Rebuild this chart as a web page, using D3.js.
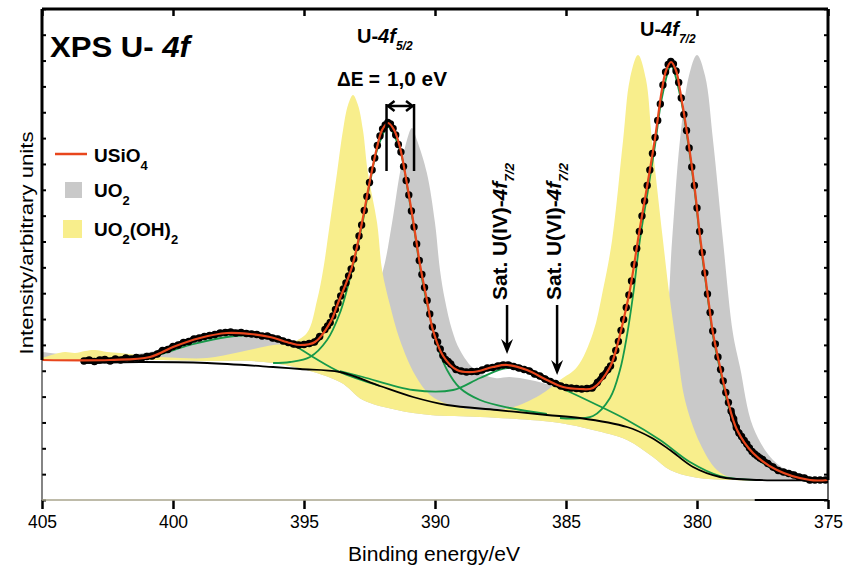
<!DOCTYPE html>
<html><head><meta charset="utf-8">
<script src="https://cdn.jsdelivr.net/npm/d3@7/dist/d3.min.js"></script>
<style>
body{margin:0;background:#fff;}
svg{display:block;}
text{font-family:"Liberation Sans",Arial,Helvetica,sans-serif;fill:#000;}
</style></head><body>
<svg id="chart" width="845" height="568"></svg>
<script>
// ---------- data (binding energy eV, counts) ----------
const xTicks = [405,400,395,390,385,380,375];
const xTickLabels = ["405","400","395","390","385","380","375"];

const measured = [
[403.4,2780],[403.2,2800],[403.0,2770],[402.8,2800],[402.6,2810],[402.4,2780],[402.2,2820],[402.0,2800],
[401.8,2840],[401.6,2820],[401.4,2850],[401.2,2840],[401.0,2870],[400.8,2880],[400.6,2920],[400.4,2990],
[400.2,3010],[400.0,3070],[399.8,3100],[399.6,3150],[399.4,3170],[399.2,3220],[399.0,3240],[398.8,3270],
[398.6,3290],[398.4,3310],[398.2,3340],[398.0,3350],[397.8,3360],[397.6,3340],[397.4,3350],[397.2,3330],
[397.0,3320],[396.8,3310],[396.6,3280],[396.4,3280],[396.2,3240],[396.0,3220],[395.8,3180],[395.6,3150],
[395.4,3120],[395.2,3100],[395.0,3110],[394.8,3130],[394.6,3160],[394.4,3270],[394.2,3410],
[394.1,3480],[394.0,3550],[393.9,3680],[393.8,3810],[393.7,3940],[393.6,4080],[393.5,4220],[393.4,4340],
[393.3,4480],[393.2,4620],[393.1,4820],[393.0,5050],[392.9,5280],[392.8,5500],[392.7,5790],[392.6,6070],
[392.5,6350],[392.4,6600],[392.3,6840],[392.2,7090],[392.1,7280],[392.0,7420],[391.9,7500],[391.8,7550],
[391.7,7520],[391.6,7430],[391.5,7300],[391.4,7110],[391.3,6960],[391.2,6670],[391.1,6390],[391.0,6100],
[390.9,5780],[390.8,5460],[390.7,5120],[390.6,4790],[390.5,4510],[390.4,4250],[390.3,3990],[390.2,3720],
[390.1,3460],[390.0,3290],[389.9,3160],[389.8,3020],[389.7,2890],[389.6,2810],[389.5,2770],[389.4,2720],
[389.2,2610],[389.0,2580],[388.8,2560],[388.6,2570],[388.4,2570],[388.2,2600],[388.0,2640],[387.8,2650],
[387.6,2680],[387.4,2700],[387.2,2700],[387.0,2670],[386.8,2640],[386.6,2610],[386.4,2580],[386.2,2520],
[386.0,2480],[385.8,2420],[385.6,2370],[385.4,2330],[385.2,2280],[385.0,2250],[384.8,2240],[384.6,2230],
[384.4,2220],[384.2,2230],[384.0,2240],[383.8,2350],[383.6,2480],[383.4,2610],
[383.3,2680],[383.2,2830],[383.1,2990],[383.0,3170],[382.9,3390],[382.8,3610],[382.7,3850],[382.6,4100],
[382.5,4380],[382.4,4710],[382.3,5030],[382.2,5370],[382.1,5680],[382.0,5980],[381.9,6290],[381.8,6600],
[381.7,6930],[381.6,7250],[381.5,7590],[381.4,7920],[381.3,8300],[381.2,8560],[381.1,8710],[381.0,8770],
[380.9,8720],[380.8,8580],[380.7,8350],[380.6,8040],[380.5,7710],[380.4,7390],[380.3,7040],[380.2,6660],
[380.1,6290],[380.0,5840],[379.9,5370],[379.8,4950],[379.7,4540],[379.6,4120],[379.5,3750],[379.4,3380],
[379.3,3120],[379.2,2860],[379.1,2610],[379.0,2380],[378.9,2150],[378.8,1950],[378.7,1780],[378.6,1620],
[378.5,1450],[378.4,1340],[378.3,1270],[378.2,1190],[378.1,1120],[378.0,1040],[377.9,970],[377.8,920],
[377.7,880],[377.6,840],[377.5,810],
[377.3,730],[377.1,660],[376.9,590],[376.7,560],[376.5,530],[376.3,500],[376.1,460],[375.9,440],
[375.7,400],[375.5,400],[375.3,400],[375.1,400]
];

const fitUSiO4 = [
[405.00,2800],[402.40,2800],[400.88,2860],[400.00,3060],[398.97,3240],[397.94,3340],[397.06,3320],[396.30,3260],
[395.53,3140],[395.15,3100],[394.58,3160],[394.01,3540],[393.70,3940],[393.17,4660],[392.79,5540],[392.48,6400],
[392.21,7060],[392.02,7400],[391.79,7540],[391.56,7400],[391.34,7060],[391.03,6200],[390.76,5340],[390.57,4700],
[390.31,4000],[390.08,3400],[389.69,2880],[389.16,2600],[388.55,2560],[387.79,2660],[387.25,2700],[386.49,2600],
[385.73,2400],[385.11,2260],[384.47,2220],[383.97,2240],[383.32,2660],[383.02,3140],[382.79,3640],[382.56,4200],
[382.18,5440],[381.87,6380],[381.60,7240],[381.34,8200],[381.18,8590],[380.99,8760],[380.80,8590],[380.65,8200],
[380.34,7200],[380.08,6200],[379.89,5300],[379.69,4500],[379.54,3900],[379.39,3340],[379.12,2660],[378.85,2040],
[378.47,1400],[377.86,940],[376.95,600],[375.69,400],[375.00,400]
];

const refUO2 = [
[405.00,2960],[403.93,2900],[402.79,2860],[401.64,2900],[400.50,3000],[399.35,3160],[397.94,3300],[396.68,3260],
[395.53,3120],[394.39,3100],[393.44,3240],[392.86,3600],[392.40,4000],[391.98,4600],[391.64,5540],[391.34,6540],
[391.07,7200],[390.88,7440],[390.69,7200],[390.31,6540],[390.00,5540],[389.81,4600],[389.62,4000],[389.35,3400],
[389.05,3000],[388.47,2600],[387.71,2440],[387.14,2460],[386.37,2400],[385.61,2300],[384.85,2200],[383.70,2160],
[382.18,2400],[381.60,2800],[381.22,3340],[380.95,5200],[380.65,7200],[380.31,8480],[380.00,8900],[379.69,8480],
[379.39,7200],[379.01,5200],[378.63,3340],[378.36,2660],[377.86,1460],[377.10,800],[376.34,540],[375.57,440],
[375.00,400]
];

const refUO2OH2 = [
[405.00,2840],[404.50,2920],[404.12,2960],[403.74,2940],[403.36,2980],[402.98,3000],[402.52,2960],[402.02,2940],
[401.26,2900],[400.50,2860],[399.73,2840],[398.70,2840],[397.44,2960],[396.18,3100],[395.53,3140],[394.89,3340],
[394.50,4000],[394.27,4600],[394.01,5540],[393.74,6540],[393.51,7400],[393.32,7900],[393.13,8100],[392.94,7900],
[392.75,7400],[392.56,6540],[392.21,5540],[392.02,4600],[391.72,3900],[391.34,3200],[390.76,2500],[390.19,2100],
[389.43,1900],[388.28,1800],[387.14,1840],[385.99,2100],[385.23,2400],[384.58,2660],[383.97,3340],[383.59,4200],
[383.24,5200],[382.82,7200],[382.56,8420],[382.25,8900],[381.95,8420],[381.72,7200],[381.30,5200],[381.03,4000],
[380.73,2900],[380.46,2000],[379.89,1140],[379.24,600],[378.63,440],[377.60,400],[375.00,400]
];

const refBase = [
[405.00,2800],[400.88,2800],[398.97,2780],[396.18,2740],[393.63,2360],[392.75,2000],[391.45,1800],[390.19,1700],
[388.28,1660],[386.37,1600],[385.23,1540],[383.97,1400],[382.67,1200],[381.68,860],[381.03,600],[380.15,460],
[378.86,400],[375.00,400]
];

const shirleyBg = [
[403.44,2740],[401.26,2760],[398.70,2740],[396.18,2660],[395.15,2620],[393.63,2560],[392.10,2280],[390.84,2060],
[389.54,1900],[387.63,1800],[385.73,1700],[384.47,1640],[382.67,1460],[381.79,1260],[381.03,1000],[380.15,660],
[379.12,460],[377.60,400],[375.00,400]
];

const compSat398 = [
[403.44,2760],[400.88,2860],[399.35,3100],[397.94,3260],[396.41,3280],[395.42,3100],[394.66,2860],[393.63,2560],[392.10,2280]
];
const comp4f52 = [
[396.18,2740],[395.53,2760],[394.77,2860],[394.12,3200],[393.63,3740],[393.17,4600],[392.79,5480],[392.48,6340],
[392.21,7000],[391.79,7460],[391.34,7000],[391.03,6160],[390.76,5300],[390.57,4640],[390.31,3940],[389.92,3100],
[389.54,2600],[389.05,2240],[388.28,2000],[387.14,1840],[385.73,1720]
];
const compSat387 = [
[393.63,2580],[392.75,2460],[390.84,2200],[389.31,2200],[388.28,2440],[387.25,2640],[386.49,2560],[385.73,2360],
[385.11,2220],[383.97,1940],[382.67,1600],[381.41,1200],[380.27,760],[379.12,480],[377.60,400]
];
const comp4f72 = [
[385.23,1640],[383.97,1680],[383.32,2040],[382.94,2600],[382.67,3300],[382.44,4100],[382.18,5200],[381.87,6200],
[381.60,7100],[381.34,8040],[380.99,8680],[380.65,8100],[380.34,7140],[380.08,6140],[379.89,5240],[379.69,4440],
[379.54,3840],[379.39,3280],[379.12,2600],[378.86,1980],[378.47,1360],[377.86,900],[376.95,580],[375.69,400],[375.00,400]
];

const deltaE = [391.85, 390.80];           // USiO4 and UO2 4f5/2 maxima
const satPositions = [387.25, 385.34];     // U(IV) and U(VI) satellites
const satLabels = ["U(IV)", "U(VI)"];
// energy windows where the measured points are dense enough to merge into a band
const flatWindows = [[403.5, 394.3], [389.6, 383.4], [378.7, 375.0]];

// ---------- drawing ----------
const svg = d3.select("#chart");
const x = d3.scaleLinear().domain([405, 375]).range([42, 828]);
const y = d3.scaleLinear().domain([0, 9820]).range([500, 9]);

const C = {yellow:"#f8ee8c", gray:"#c9c9c9", red:"#e8461c", green:"#17994a"};

svg.append("clipPath").attr("id","clip").append("rect")
  .attr("x", x(405)).attr("y", y(9820)).attr("width", x(375)-x(405)).attr("height", y(0)-y(9820));

const line = d3.line().x(d=>x(d[0])).y(d=>y(d[1])).curve(d3.curveCatmullRom.alpha(0.5));
const band = (up, lo) => line(up) + line(lo.slice().reverse()).replace(/^M/, "L") + "Z";

const plot = svg.append("g").attr("clip-path","url(#clip)");
plot.append("path").attr("d", band(refUO2, refBase)).attr("fill", C.gray);
plot.append("path").attr("d", band(refUO2OH2, refBase)).attr("fill", C.yellow);

[compSat398, comp4f52, compSat387, comp4f72].forEach(c =>
  plot.append("path").attr("d", line(c)).attr("fill","none").attr("stroke", C.green).attr("stroke-width",1.8));
plot.append("path").attr("d", line(shirleyBg)).attr("fill","none").attr("stroke","#000").attr("stroke-width",1.8);

// measured points: merged band where dense, separate dots on the steep flanks
flatWindows.forEach(w => {
  const seg = measured.filter(d => d[0] <= w[0] && d[0] >= w[1]);
  plot.append("path").attr("d", line(seg)).attr("fill","none").attr("stroke","#000")
    .attr("stroke-width",6).attr("stroke-linejoin","round").attr("stroke-linecap","round");
});
plot.append("g").selectAll("circle").data(measured).join("circle")
  .attr("cx", d=>x(d[0])).attr("cy", d=>y(d[1])).attr("r", 3.7).attr("fill","#000");

plot.append("path").attr("d", line(fitUSiO4)).attr("fill","none").attr("stroke", C.red).attr("stroke-width",2.2);

// ---------- axes ----------
const yTicks = d3.range(0, 20).map(k => k * 517);
const axG = svg.append("g");
const axBottom = axG.append("g").attr("transform",`translate(0,${y(0)})`)
  .call(d3.axisBottom(x).tickValues(xTicks).tickFormat((d,i)=>xTickLabels[i]).tickSize(9).tickPadding(10));
axBottom.select(".domain").remove();
axBottom.selectAll(".tick line").attr("stroke","#000").attr("stroke-width",2.5);
axBottom.selectAll(".tick text").attr("font-size",17.5).attr("y",28).attr("dy",0)
  .style("font-family","'Liberation Sans',Arial,sans-serif");

const axTop = axG.append("g").attr("transform",`translate(0,${y(9820)})`)
  .call(d3.axisTop(x).tickValues(xTicks).tickSize(-7).tickFormat(""));
axTop.select(".domain").remove();
axTop.selectAll(".tick line").attr("stroke","#000").attr("stroke-width",2.5);

const axLeft = axG.append("g").attr("transform",`translate(${x(405)},0)`)
  .call(d3.axisLeft(y).tickValues(yTicks).tickSize(-4).tickFormat(""));
axLeft.select(".domain").remove();
axLeft.selectAll(".tick line").attr("stroke","#000").attr("stroke-width",2);

const axRight = axG.append("g").attr("transform",`translate(${x(375)},0)`)
  .call(d3.axisRight(y).tickValues(yTicks).tickSize(-4).tickFormat(""));
axRight.select(".domain").remove();
axRight.selectAll(".tick line").attr("stroke","#000").attr("stroke-width",2);

// frame
const frame = [
  [x(405), y(9820), x(375), y(9820), 3, "#000"],
  [x(375), y(9820), x(375), y(400), 3, "#000"],
  [x(375), y(400), x(375), y(0), 1.2, "#000"],
  [x(405), y(9820), x(405), y(2800), 3, "#000"],
  [x(405), y(2800), x(405), y(0), 1.2, "#333"],
  [x(405), y(0), x(377.8), y(0), 1.5, "#a9a48c"],
  [x(377.8), y(0), x(375), y(0), 2, "#000"]
];
frame.forEach(f => axG.append("line").attr("x1",f[0]).attr("y1",f[1]).attr("x2",f[2]).attr("y2",f[3])
  .attr("stroke",f[5]).attr("stroke-width",f[4]));

// axis titles
svg.append("text").attr("x", 434).attr("y", 561).attr("text-anchor","middle")
  .attr("font-size",20).attr("textLength",172).attr("lengthAdjust","spacingAndGlyphs").text("Binding energy/eV");
svg.append("text").attr("transform","translate(33,243) rotate(-90)").attr("text-anchor","middle")
  .attr("font-size",18).attr("textLength",223).attr("lengthAdjust","spacingAndGlyphs").text("Intensity/arbitrary units");

// title
const ttl = svg.append("text").attr("x",50).attr("y",57).attr("font-size",30).attr("font-weight","bold")
  .attr("textLength",140).attr("lengthAdjust","spacingAndGlyphs");
ttl.append("tspan").text("XPS U- ");
ttl.append("tspan").attr("font-style","italic").text("4f");

// peak labels
function peakLabel(px, py, sub) {
  const e = svg.append("text").attr("x",px).attr("y",py).attr("font-size",20).attr("font-weight","bold");
  e.append("tspan").text("U-");
  e.append("tspan").attr("font-style","italic").text("4f");
  e.append("tspan").attr("font-style","italic").attr("font-size",12).attr("dy",7).text(sub);
}
peakLabel(357, 43, "5/2");
peakLabel(640, 36, "7/2");

// delta E
svg.append("text").attr("x",337).attr("y",86).attr("font-size",19.5).attr("font-weight","bold")
  .attr("textLength",43).attr("lengthAdjust","spacingAndGlyphs").text("\u0394E =");
svg.append("text").attr("x",387).attr("y",86).attr("font-size",19.5).attr("font-weight","bold")
  .attr("textLength",60).attr("lengthAdjust","spacingAndGlyphs").text("1,0 eV");
const ann = svg.append("g").attr("stroke","#000").attr("stroke-width",2.5).attr("fill","none");
deltaE.forEach(e => ann.append("line").attr("x1",x(e)).attr("x2",x(e)).attr("y1",y(7920)).attr("y2",y(6580)));
const ay = y(7880), xa = x(deltaE[0]), xb = x(deltaE[1]);
ann.append("line").attr("x1",xa+1).attr("x2",xb-1).attr("y1",ay).attr("y2",ay);
ann.append("path").attr("d",`M${xa+8},${ay-5}L${xa+1.5},${ay}L${xa+8},${ay+5}`);
ann.append("path").attr("d",`M${xb-8},${ay-5}L${xb-1.5},${ay}L${xb-8},${ay+5}`);

// satellite labels and arrows
const satTextX = [507, 561];
const satArrowEnd = [2920, 2500];
satPositions.forEach((e, i) => {
  const ax0 = x(e), y0 = y(3900), y1 = y(satArrowEnd[i]);
  svg.append("line").attr("x1",ax0).attr("x2",ax0).attr("y1",y0).attr("y2",y1-6)
    .attr("stroke","#000").attr("stroke-width",2.5);
  svg.append("path").attr("d",`M${ax0},${y1}L${ax0-6},${y1-15}L${ax0},${y1-10}L${ax0+6},${y1-15}Z`).attr("fill","#000");
  const s = svg.append("text").attr("transform",`translate(${satTextX[i]},300) rotate(-90)`)
    .attr("font-size",20).attr("font-weight","bold").attr("textLength",137).attr("lengthAdjust","spacingAndGlyphs");
  s.append("tspan").text("Sat. " + satLabels[i] + "-");
  s.append("tspan").attr("font-style","italic").text("4f");
  s.append("tspan").attr("font-style","italic").attr("font-size",13).attr("dy",7).text("7/2");
});

// legend
const lg = svg.append("g");
lg.append("line").attr("x1",55).attr("x2",87).attr("y1",154).attr("y2",154).attr("stroke",C.red).attr("stroke-width",2.5);
lg.append("rect").attr("x",65).attr("y",182).attr("width",17).attr("height",16).attr("fill",C.gray);
lg.append("rect").attr("x",63).attr("y",220).attr("width",19).attr("height",18).attr("fill",C.yellow);
function legText(py, parts) {
  const e = lg.append("text").attr("x",94).attr("y",py).attr("font-size",19).attr("font-weight","bold");
  let sub = false;
  parts.forEach(p => {
    const ts = e.append("tspan").text(p[0]);
    if (p[1] && !sub) { ts.attr("font-size",13).attr("dy",8); sub = true; }
    else if (!p[1] && sub) { ts.attr("dy",-8); sub = false; }
    else if (p[1]) ts.attr("font-size",13);
  });
}
legText(162, [["USiO",0],["4",1]]);
legText(197, [["UO",0],["2",1]]);
legText(236, [["UO",0],["2",1],["(OH)",0],["2",1]]);
</script></body></html>
